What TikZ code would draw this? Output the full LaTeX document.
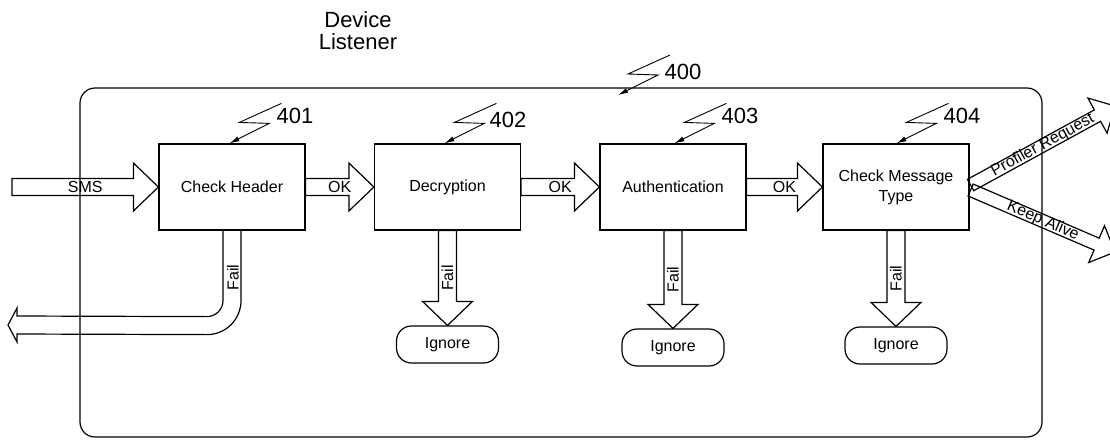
\documentclass[tikz,border=0pt]{standalone}
\usepackage{fontspec}
\setmainfont{Liberation Sans}
\usetikzlibrary{calc,arrows.meta}
\tikzset{
  box/.style={draw, line width=1.2pt, minimum width=146pt, minimum height=86pt, inner sep=0pt, font=\fontsize{16}{20}\selectfont, align=center},
  ign/.style={draw, line width=1.2pt, rounded corners=15pt, minimum width=102pt, minimum height=37pt, inner sep=0pt, font=\fontsize{16}{19}\selectfont},
  blk/.style={draw, line width=1.2pt, line join=miter},
  lbl/.style={font=\fontsize{16}{19}\selectfont, inner sep=0pt},
  num/.style={font=\fontsize{22}{22}\selectfont, inner sep=0pt},
  ldr/.style={line width=0.9pt, -{Latex[length=10pt,width=5pt]}},
  outerbox/.style={draw, line width=1.2pt, rounded corners=15pt, minimum width=962pt, minimum height=349pt, inner sep=0pt},
}
\newcommand{\blockarrow}[7]{%
  \coordinate (ba-h) at ($(#2)!#5pt!(#1)$);
  \draw[blk] ($(#1)!#3pt!90:(#2)$) -- ($(ba-h)!#3pt!90:(#2)$) -- ($(ba-h)!#4pt!90:(#2)$) -- (#2) -- ($(ba-h)!#4pt!-90:(#2)$) -- ($(ba-h)!#3pt!-90:(#2)$) -- ($(#1)!#3pt!-90:(#2)$) -- cycle;
  \path (#1) -- (#2) node[midway, lbl, #6] {#7};}
\newcommand{\leaderline}[1]{%
  \draw[ldr] ($(#1)+(52,-40)$) -- ($(#1)+(10,-21)$) -- ($(#1)+(40,-20)$) -- (#1);}
\begin{document}
\begin{tikzpicture}[x=1pt,y=-1pt]
\useasboundingbox (0,0) rectangle (1110,440);
\clip (0,0) rectangle (1110,440);
\fill[white] (0,0) rectangle (1110,440);

% title
\node[align=center, font=\fontsize{22}{22}\selectfont, inner sep=0pt] (title) at (358,31) {Device\\Listener};

% outer container
\node[outerbox] (dl) at (561,262.5) {};

% process boxes
\node[box] (h) at (232,187) {Check Header};
\node[box] (d) at (447.5,187) {Decryption};
\node[box] (a) at (673,187) {Authentication};
\node[box] (m) at (896,187) {Check Message\\Type};

% ignore terminals
\node[ign] (ig1) at (447.5,344.5) {Ignore};
\node[ign] (ig2) at (673,347.5) {Ignore};
\node[ign] (ig3) at (896,345.5) {Ignore};

% reference numbers
\node[num] (n400) at (683,72) {400};
\node[num] (n401) at (295,116) {401};
\node[num] (n402) at (508,120) {402};
\node[num] (n403) at (740,116) {403};
\node[num] (n404) at (962,116) {404};

\coordinate (t400) at (618,95);
\coordinate (t401) at ($(h.north west)+(71,0)$);
\coordinate (t402) at ($(d.north west)+(70.5,0)$);
\coordinate (t403) at ($(a.north west)+(75,0)$);
\coordinate (t404) at ($(m.north west)+(74,0)$);
\leaderline{t400}
\leaderline{t401}
\leaderline{t402}
\leaderline{t403}
\leaderline{t404}

% horizontal block arrows
\coordinate (smsin) at (12,187);
\blockarrow{smsin}{h.west}{8.5}{24}{25}{}{SMS}
\blockarrow{h.east}{d.west}{8.5}{24}{25}{}{OK}
\blockarrow{d.east}{a.west}{8.5}{24}{25}{}{OK}
\blockarrow{a.east}{m.west}{8.5}{24}{25}{}{OK}

% vertical fail arrows
\blockarrow{d.south}{ig1.north}{9}{25}{24}{rotate=90}{Fail}
\blockarrow{a.south}{ig2.north}{9}{25}{24}{rotate=90}{Fail}
\blockarrow{m.south}{ig3.north}{9}{25}{24}{rotate=90}{Fail}

% curved fail arrow from Check Header
\coordinate (chf) at (8,325);
\draw[blk] ($(h.south)+(-9,0)$) -- ($(h.south)+(-9,70)$)
  .. controls ($(h.south)+(-9,78.8)$) and ($(h.south)+(-16.2,86)$) .. ($(h.south)+(-25,86)$)
  -- ($(chf)+(9,-9)$) -- ($(chf)+(9,-17)$) -- (chf) -- ($(chf)+(9,17)$) -- ($(chf)+(9,9)$)
  -- ($(h.south)+(-25,104)$)
  .. controls ($(h.south)+(-6.2,104)$) and ($(h.south)+(9,88.8)$) .. ($(h.south)+(9,70)$)
  -- ($(h.south)+(9,0)$);
\node[lbl, rotate=90] (chfail) at ($(h.south)+(1,47)$) {Fail};

% outgoing diagonal arrows
\coordinate (prs) at ($(m.east)+(1,-2)$);
\coordinate (pre) at (1115,106);
\coordinate (kas) at ($(m.east)+(1,3)$);
\coordinate (kae) at (1115,252);
\blockarrow{prs}{pre}{6.5}{20}{20}{sloped}{Profiler Request}
\blockarrow{kas}{kae}{6.5}{20}{20}{sloped}{Keep Alive}
\end{tikzpicture}
\end{document}
